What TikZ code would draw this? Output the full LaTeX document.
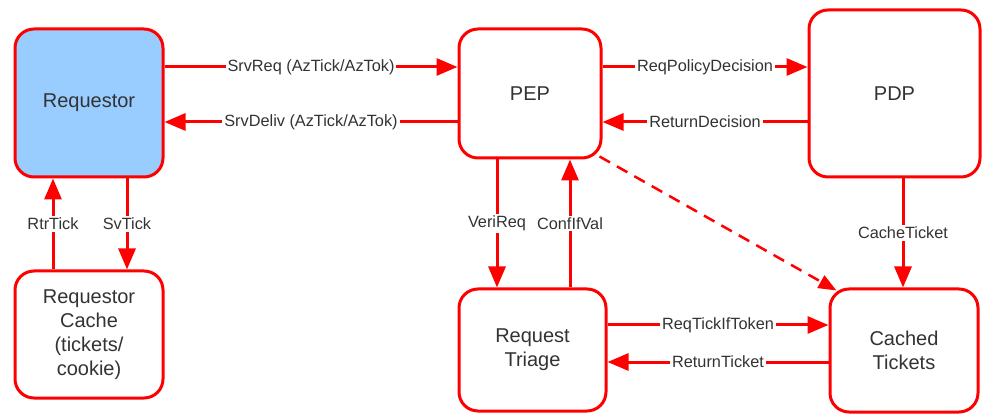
\documentclass[tikz,border=0pt]{standalone}
\usepackage{fontspec}
\setmainfont{Liberation Sans}
\usetikzlibrary{arrows.meta,calc}
\definecolor{ln}{HTML}{FF0000}
\definecolor{tx}{HTML}{333333}
\definecolor{bl}{HTML}{99CCFF}
\begin{document}
\begin{tikzpicture}[x=1pt,y=-1pt,
  box/.style={draw=ln,line width=3pt,rounded corners=19pt,fill=white,text=tx,
    align=center,inner sep=0pt,font=\fontsize{20}{24}\selectfont},
  arr/.style={draw=ln,line width=3pt,-{Triangle[length=21pt,width=17pt]}},
  dasharr/.style={draw=ln,line width=2.5pt,dash pattern=on 12pt off 8pt,
    -{Triangle[length=18pt,width=14pt]}},
  lab/.style={fill=white,text=tx,inner sep=2pt,font=\fontsize{16.3}{19}\selectfont}]
\useasboundingbox (0,0) rectangle (986,414);
\node[box,fill=bl,minimum width=148pt,minimum height=148pt] (req) at (89,103) {Requestor};
\node[box,minimum width=148pt,minimum height=127pt] (rc) at (89,334.5) {Requestor\\Cache\\(tickets/\\cookie)};
\node[box,minimum width=142pt,minimum height=129pt] (pep) at (530,93.5) {PEP};
\node[box,minimum width=171pt,minimum height=167pt] (pdp) at (894.5,93.5) {PDP};
\node[box,minimum width=147pt,minimum height=122pt] (rt) at (532.5,350) {Request\\Triage};
\node[box,minimum width=148pt,minimum height=123pt] (ct) at (904,350.5) {Cached\\Tickets};

\draw[arr] (req.east |- 0,67) -- node[lab]{SrvReq (AzTick/AzTok)} (pep.west |- 0,67);
\draw[arr] (pep.west |- 0,122) -- node[lab]{SrvDeliv (AzTick/AzTok)} (req.east |- 0,122);
\draw[arr] (pep.east |- 0,67) -- node[lab]{ReqPolicyDecision} (pdp.west |- 0,67);
\draw[arr] (pdp.west |- 0,122) -- node[lab]{ReturnDecision} (pep.east |- 0,122);
\draw[arr] (rc.north -| 53,0) -- node[lab]{RtrTick} (req.south -| 53,0);
\draw[arr] (req.south -| 127,0) -- node[lab]{SvTick} (rc.north -| 127,0);
\draw[arr] (pep.south -| 497,0) -- node[lab]{VeriReq} (rt.north -| 497,0);
\draw[arr] (rt.north -| 570,0) -- node[lab]{ConfIfVal} (pep.south -| 570,0);
\draw[arr] (pdp.south -| 903,0) -- node[lab]{CacheTicket} (ct.north -| 903,0);
\draw[arr] (rt.east |- 0,325) -- node[lab]{ReqTickIfToken} (ct.west |- 0,325);
\draw[arr] (ct.west |- 0,362) -- node[lab]{ReturnTicket} (rt.east |- 0,362);
\draw[dasharr] ($(pep.south east)+(-3,-3)$) -- ($(ct.north west)+(8,3)$);
\end{tikzpicture}
\end{document}
